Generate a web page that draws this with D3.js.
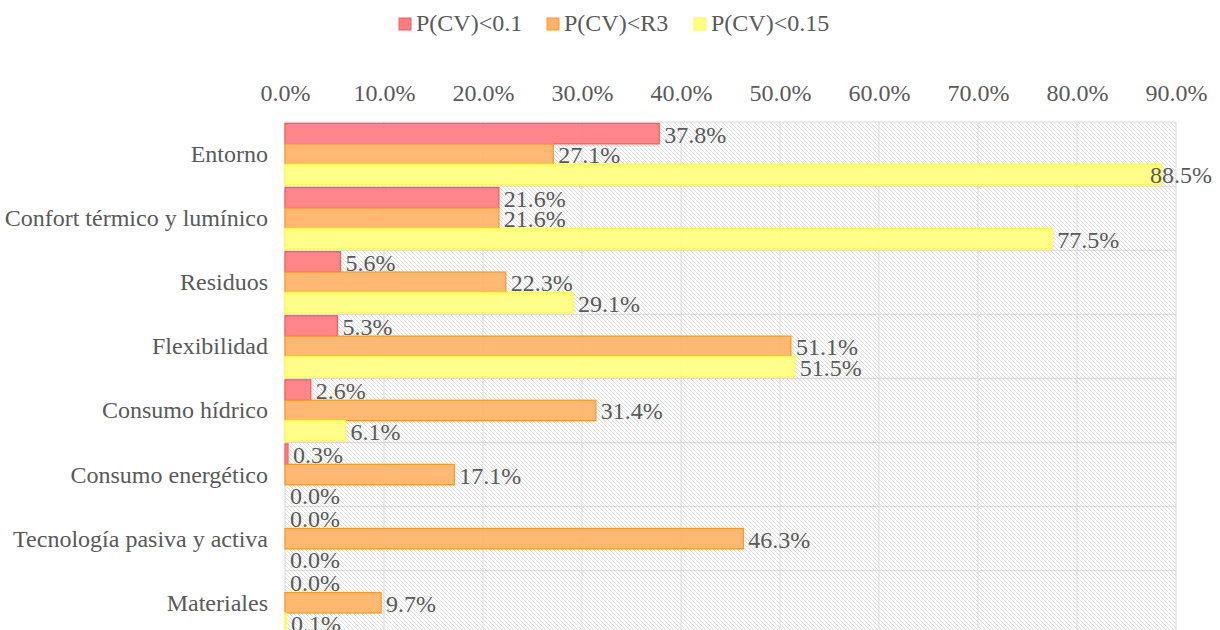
<!DOCTYPE html>
<html><head><meta charset="utf-8">
<script src="https://cdn.jsdelivr.net/npm/d3@7"></script>
<style>body{margin:0;background:#fff;} svg{display:block;} svg text{font-family:"Liberation Serif","Times New Roman",serif;}</style>
</head><body>
<svg id="c" width="1220" height="630"></svg>
<script>
const categories = ["Entorno","Confort térmico y lumínico","Residuos","Flexibilidad","Consumo hídrico","Consumo energético","Tecnología pasiva y activa","Materiales"];
const seriesNames = ["P(CV)<0.1","P(CV)<R3","P(CV)<0.15"];
const s1 = [37.8,21.6,5.6,5.3,2.6,0.3,0.0,0.0];
const s2 = [27.1,21.6,22.3,51.1,31.4,17.1,46.3,9.7];
const s3 = [88.5,77.5,29.1,51.5,6.1,0.0,0.0,0.1];
const tickValues = [0,10,20,30,40,50,60,70,80,90];
const fills = ["#FF7C80","#FFB366","#FFFF80"];
const strokes = ["#FF5B5B","#FF9A1F","#FFFF40"];
const series = [s1,s2,s3];

(function(){
const svg = d3.select("#c");
const textColor = "#595959";
const ff = "Liberation Serif";
const fs = 24;
const pLeft = 285, pRight = 1176, pTop = 122, bandH = 64.1;
const pBottom = pTop + bandH*categories.length;
const x = d3.scaleLinear().domain([0,90]).range([pLeft,pRight]);
const y = d3.scaleBand().domain(categories).range([pTop, pBottom]).paddingInner(0).paddingOuter(0);
const inner = d3.scaleBand().domain(seriesNames).range([0, y.bandwidth()]).paddingInner(0).paddingOuter(0.07);

const defs = svg.append("defs");
const pat = defs.append("pattern").attr("id","hatch").attr("patternUnits","userSpaceOnUse").attr("width",4).attr("height",4);
pat.append("rect").attr("width",4).attr("height",4).attr("fill","#fff");
pat.append("path").attr("d","M-1,-1 L5,5 M-1,3 L1,5 M3,-1 L5,1").attr("stroke","#d6d6d6").attr("stroke-width",0.8);

svg.append("rect").attr("x",pLeft).attr("y",pTop).attr("width",pRight-pLeft).attr("height",pBottom-pTop).attr("fill","url(#hatch)");

svg.append("g").selectAll("line").data(tickValues).join("line")
  .attr("x1",d=>x(d)).attr("x2",d=>x(d)).attr("y1",pTop).attr("y2",pBottom)
  .attr("stroke","#d9d9d9").attr("stroke-width",1);
svg.append("g").selectAll("line").data(d3.range(categories.length+1)).join("line")
  .attr("x1",pLeft).attr("x2",pRight).attr("y1",i=>pTop+i*bandH).attr("y2",i=>pTop+i*bandH)
  .attr("stroke","#d9d9d9").attr("stroke-width",1);

const axis = d3.axisTop(x).tickValues(tickValues).tickFormat(d=>d.toFixed(1)+"%").tickSize(0).tickPadding(0);
const ag = svg.append("g").attr("transform","translate(0,101)").call(axis);
ag.select(".domain").remove();
ag.attr("font-family",ff).attr("font-size",fs);
ag.selectAll("text").attr("font-family",ff).attr("font-size",fs).attr("fill",textColor).attr("dy",0);

svg.append("g").selectAll("text").data(categories).join("text")
  .attr("x",268).attr("y",d=>y(d)+y.bandwidth()/2+8)
  .attr("text-anchor","end").attr("font-family",ff).attr("font-size",fs).attr("fill",textColor)
  .text(d=>d);

const g = svg.append("g");
series.forEach((vals,si)=>{
  const name = seriesNames[si];
  g.append("g").selectAll("rect").data(vals).join("rect")
    .attr("x",x(0)).attr("y",(d,i)=>y(categories[i])+inner(name))
    .attr("width",d=>Math.max(0,x(d)-x(0))).attr("height",inner.bandwidth())
    .attr("fill",fills[si]).attr("fill-opacity",0.92)
    .attr("stroke",strokes[si]).attr("stroke-width",1.3);
});
series.forEach((vals,si)=>{
  const name = seriesNames[si];
  g.append("g").selectAll("text").data(vals).join("text")
    .attr("x",d=>x(d)+5).attr("y",(d,i)=>y(categories[i])+inner(name)+inner.bandwidth()/2+9)
    .attr("font-family",ff).attr("font-size",fs).attr("fill",textColor)
    .text(d=>d.toFixed(1)+"%")
    .each(function(){
      const w = this.getComputedTextLength();
      const xx = +this.getAttribute("x");
      if (xx + w > 1212) this.setAttribute("x", 1212 - w);
    });
});

const legX = [399,547,694];
const lg = svg.append("g");
seriesNames.forEach((n,i)=>{
  lg.append("rect").attr("x",legX[i]).attr("y",18).attr("width",12).attr("height",12)
    .attr("fill",fills[i]).attr("stroke",strokes[i]).attr("stroke-width",1);
  lg.append("text").attr("x",legX[i]+17).attr("y",31).attr("font-family",ff).attr("font-size",fs).attr("fill",textColor).text(n);
});
})();
</script>
</body></html>
